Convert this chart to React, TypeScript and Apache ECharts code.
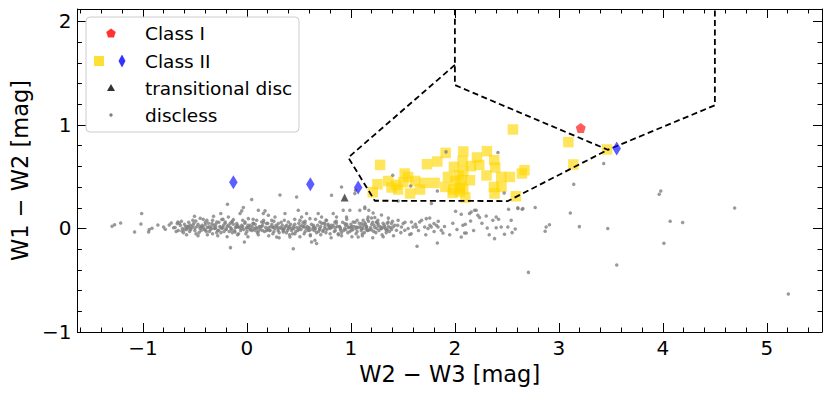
import React, { useEffect, useRef } from 'react';
import * as echarts from 'echarts';

const X_RANGE = [-1.63, 5.53];
const Y_RANGE = [-1, 2.12];
const X_MAJOR = [-1, 0, 1, 2, 3, 4, 5];
const X_MINOR = [-1.6, -1.4, -1.2, -0.8, -0.6, -0.4, -0.2, 0.2, 0.4, 0.6, 0.8, 1.2, 1.4, 1.6, 1.8, 2.2, 2.4, 2.6, 2.8, 3.2, 3.4, 3.6, 3.8, 4.2, 4.4, 4.6, 4.8, 5.2, 5.4];
const Y_MAJOR = [-1, 0, 1, 2];
const Y_MINOR = [-0.8, -0.6, -0.4, -0.2, 0.2, 0.4, 0.6, 0.8, 1.2, 1.4, 1.6, 1.8];

const X_NAME = 'W2 \u2212 W3 [mag]';
const Y_NAME = 'W1 \u2212 W2 [mag]';
const LEGEND_LABELS = ['Class I', 'Class II', 'transitional disc', 'discless'];

const classI = [[3.21, 0.97]];
const classIIDiamonds = [[-0.13, 0.447], [0.61, 0.427], [1.07, 0.396], [3.556, 0.773]];
const transitional = [[0.94, 0.30]];
const classIISquares = [
  [1.281, 0.614], [1.732, 0.621], [1.831, 0.647], [1.911, 0.730], [2.081, 0.744], [2.212, 0.686],
  [2.308, 0.747], [2.378, 0.660], [2.388, 0.589], [1.991, 0.595], [2.074, 0.653], [2.154, 0.602],
  [2.234, 0.614], [1.517, 0.531], [1.550, 0.498], [1.617, 0.459], [1.706, 0.440], [1.805, 0.440],
  [1.934, 0.498], [2.036, 0.512], [2.081, 0.556], [2.304, 0.512], [2.445, 0.498], [2.529, 0.498],
  [2.644, 0.531], [2.669, 0.563], [1.358, 0.459], [1.435, 0.421], [1.390, 0.396], [1.454, 0.376],
  [1.505, 0.447], [1.569, 0.338], [1.665, 0.376], [1.255, 0.427], [1.210, 0.350], [1.908, 0.401],
  [1.985, 0.376], [2.004, 0.459], [2.068, 0.466], [2.145, 0.466], [2.049, 0.401], [1.978, 0.343],
  [2.049, 0.357], [2.081, 0.382], [2.100, 0.299], [2.375, 0.401], [2.381, 0.338], [2.448, 0.401],
  [2.586, 0.311], [2.558, 0.956], [3.091, 0.834], [3.139, 0.618], [3.463, 0.763]
];

const disclessSparse = [
  [-1.297, 0.021], [-1.272, 0.037], [-1.214, 0.053], [-1.080, -0.033], [-1.012, 0.144], [-1.019, 0.044],
  [-0.939, -0.011], [-0.945, -0.033], [-0.913, 0.002], [-0.856, 0.034], [-0.801, 0.015], [-0.785, -0.008],
  [-0.747, 0.034], [-0.728, 0.053], [-0.705, 0.008], [-0.664, 0.063], [-0.670, 0.047], [-0.625, -0.024],
  [-0.600, -0.011], [-0.577, 0.005], [-0.561, 0.021], [-0.545, 0.034], [-0.504, 0.118], [-0.491, 0.073],
  [-0.449, 0.099], [-0.433, 0.015], [-0.401, 0.037], [-0.385, 0.079], [-0.369, 0.015], [-0.337, 0.047],
  [-0.321, 0.118], [-0.305, 0.002], [-0.289, 0.063], [-0.273, -0.017], [-0.251, 0.144], [-0.241, 0.086],
  [-0.225, 0.031], [-0.209, 0.063], [-0.187, 0.234], [-0.178, 0.111], [-0.162, 0.015], [-0.158, -0.185],
  [-0.146, 0.063], [-0.130, 0.086], [-0.114, -0.033], [-0.098, 0.047], [-0.082, 0.015], [-0.066, 0.144],
  [-0.050, 0.170], [-0.034, 0.202], [-0.024, -0.130], [-0.018, 0.063], [-0.002, 0.008], [0.014, 0.095],
  [0.030, -0.011], [0.046, 0.279], [0.062, 0.047], [0.078, -0.017], [0.094, 0.079], [0.110, 0.176],
  [0.126, 0.015], [0.142, 0.063], [0.158, 0.144], [0.174, 0.170], [0.190, 0.047], [0.206, 0.128],
  [0.222, -0.017], [0.238, 0.079], [0.254, 0.015], [0.270, 0.111], [0.286, -0.082], [0.302, 0.047],
  [0.318, 0.324], [0.334, -0.001], [0.350, -0.033], [0.366, 0.144], [0.382, 0.031], [0.398, 0.063],
  [0.414, -0.082], [0.430, -0.001], [0.446, -0.195], [0.462, -0.050], [0.478, 0.305], [0.494, 0.176],
  [0.510, 0.079], [0.526, 0.111], [0.542, 0.015], [0.558, 0.047], [0.574, 0.144], [0.590, -0.017],
  [0.606, 0.095], [0.622, -0.130], [0.638, 0.015], [0.654, -0.114], [0.670, -0.146], [0.686, 0.144],
  [0.702, 0.063], [0.718, 0.111], [0.734, -0.017], [0.750, 0.047], [0.766, 0.079], [0.782, 0.031],
  [0.798, 0.015], [0.814, 0.321], [0.830, 0.144], [0.846, 0.063], [0.862, 0.111], [0.878, -0.050],
  [0.894, 0.015], [0.926, 0.176], [0.942, 0.047], [0.958, 0.111], [0.974, 0.015], [0.990, 0.176],
  [1.006, -0.017], [1.022, 0.063], [1.038, 0.337], [1.054, 0.015], [1.070, -0.082], [1.086, 0.176],
  [1.102, 0.047], [1.118, 0.079], [1.134, 0.208], [1.150, 0.015], [1.166, 0.111]
];

const disclessCore = [
  [-0.69, 0.01], [-0.66, -0.02], [-0.64, 0.03], [-0.62, 0.00], [-0.60, 0.04], [-0.58, -0.01], [-0.57, 0.02],
  [-0.55, -0.03], [-0.53, 0.01], [-0.51, 0.05], [-0.50, -0.02], [-0.48, 0.02], [-0.46, -0.04], [-0.45, 0.00],
  [-0.43, 0.03], [-0.41, -0.01], [-0.40, 0.06], [-0.38, 0.01], [-0.36, -0.03], [-0.35, 0.02], [-0.33, -0.05],
  [-0.31, 0.00], [-0.30, 0.04], [-0.28, -0.02], [-0.26, 0.02], [-0.25, -0.04], [-0.23, 0.01], [-0.21, 0.05],
  [-0.20, -0.01], [-0.18, 0.03], [-0.17, -0.03], [-0.15, 0.00], [-0.13, 0.04], [-0.12, -0.02], [-0.10, 0.02],
  [-0.08, -0.05], [-0.07, 0.01], [-0.05, 0.03], [-0.03, -0.01], [-0.02, 0.05], [0.00, -0.03], [0.02, 0.01],
  [0.03, 0.03], [0.05, -0.02], [0.07, 0.00], [0.08, 0.04], [0.10, -0.04], [0.12, 0.02], [0.13, -0.01],
  [0.15, 0.03], [0.17, -0.03], [0.18, 0.01], [0.20, 0.05], [0.22, -0.02], [0.23, 0.02], [0.25, -0.05],
  [0.27, 0.00], [0.28, 0.03], [0.30, -0.02], [0.32, 0.01], [0.33, 0.06], [0.35, -0.01], [0.37, 0.02],
  [0.38, -0.04], [0.40, 0.00], [0.42, 0.04], [0.43, -0.02], [0.45, 0.02], [0.47, -0.03], [0.48, 0.01],
  [0.50, 0.05], [0.52, -0.01], [0.53, 0.03], [0.55, -0.05], [0.57, 0.00], [0.58, 0.02], [0.60, -0.02],
  [0.62, 0.04], [0.63, -0.01], [0.65, 0.01], [0.67, -0.04], [0.68, 0.03], [0.70, 0.00], [0.72, 0.05],
  [0.73, -0.03], [0.75, 0.02], [0.77, -0.01], [0.78, 0.04], [0.80, -0.05], [0.82, 0.01], [0.83, 0.03],
  [0.85, -0.02], [0.87, 0.02], [0.88, -0.06], [0.90, 0.00], [0.92, 0.06], [0.93, -0.02], [0.95, 0.03],
  [0.97, -0.04], [0.98, 0.01], [1.00, 0.04], [1.02, -0.01], [1.03, 0.02], [1.05, -0.05], [1.07, 0.01],
  [1.08, 0.05], [1.10, -0.02], [1.12, 0.03], [1.13, -0.04], [1.15, 0.02], [1.17, 0.07], [1.18, -0.01],
  [1.20, 0.04], [1.22, -0.03], [1.23, 0.01], [1.25, 0.06], [1.27, -0.02], [1.28, 0.02], [1.30, -0.06],
  [1.32, 0.03], [1.33, 0.00], [1.35, 0.05], [1.37, -0.03], [1.38, 0.01], [1.40, 0.07],
  [-0.68, -0.03], [-0.65, 0.05], [-0.61, -0.04], [-0.59, 0.02], [-0.56, 0.06], [-0.54, -0.01], [-0.52, 0.03],
  [-0.49, -0.05], [-0.47, 0.04], [-0.44, -0.02], [-0.42, 0.01], [-0.39, -0.03], [-0.37, 0.05], [-0.34, 0.00],
  [-0.32, 0.03], [-0.29, -0.04], [-0.27, 0.06], [-0.24, 0.00], [-0.22, -0.03], [-0.19, 0.02], [-0.16, 0.05],
  [-0.14, -0.04], [-0.11, 0.01], [-0.09, 0.03], [-0.06, -0.02], [-0.04, 0.02], [-0.01, -0.05], [0.01, 0.03],
  [0.04, -0.01], [0.06, 0.05], [0.09, 0.01], [0.11, -0.03], [0.14, 0.02], [0.16, 0.06], [0.19, -0.02],
  [0.21, 0.01], [0.24, 0.04], [0.26, -0.03], [0.29, 0.02], [0.31, -0.04], [0.34, 0.03], [0.36, 0.00],
  [0.39, -0.02], [0.41, 0.02], [0.44, -0.05], [0.46, 0.04], [0.49, -0.02], [0.51, 0.02], [0.54, 0.06],
  [0.56, -0.03], [0.59, 0.01], [0.61, -0.06], [0.64, 0.03], [0.66, 0.00], [0.69, -0.03], [0.71, 0.02],
  [0.74, 0.05], [0.76, -0.04], [0.79, 0.01], [0.81, 0.03], [0.84, -0.03], [0.86, 0.05], [0.89, 0.02],
  [0.91, -0.04], [0.94, 0.00], [0.96, 0.04], [0.99, -0.03], [1.01, 0.02], [1.04, 0.06], [1.06, -0.03],
  [1.09, 0.02], [1.11, -0.05], [1.14, 0.04], [1.16, -0.02], [1.19, 0.01], [1.21, 0.06], [1.24, -0.04],
  [1.26, 0.03], [1.29, 0.00], [1.31, 0.05], [1.34, -0.04], [1.36, 0.02], [1.39, -0.01],
  [-0.55, 0.00], [-0.45, 0.02], [-0.35, -0.01], [-0.25, 0.01], [-0.15, -0.01], [-0.05, 0.00], [0.05, 0.02],
  [0.15, -0.02], [0.25, 0.01], [0.35, -0.02], [0.45, 0.00], [0.55, 0.02], [0.65, -0.02], [0.75, 0.00],
  [0.85, 0.01], [0.95, -0.01], [1.05, 0.00], [1.15, -0.01], [1.25, 0.00], [1.35, -0.01],
  [1.45, 0.03], [1.48, -0.04], [1.52, 0.06], [1.55, 0.00], [1.58, -0.05], [1.62, 0.04], [1.65, -0.02],
  [1.68, 0.08], [1.72, -0.06], [1.76, 0.03], [1.80, -0.03], [1.84, 0.07], [1.90, 0.02], [1.95, -0.06],
  [1.98, 0.05], [2.02, -0.01], [2.10, 0.04], [2.18, -0.02], [2.26, 0.05], [2.33, -0.06], [2.42, 0.09],
  [2.55, -0.04],
  [-0.63, 0.07], [-0.58, -0.06], [-0.52, 0.08], [-0.47, -0.07], [-0.42, 0.09], [-0.38, -0.06], [-0.33, 0.08],
  [-0.28, -0.07], [-0.23, 0.09], [-0.19, -0.08], [-0.14, 0.07], [-0.09, -0.06], [-0.04, 0.08], [0.01, -0.08],
  [0.06, 0.09], [0.11, -0.06], [0.16, 0.08], [0.21, -0.07], [0.26, 0.07], [0.31, -0.09], [0.36, 0.08],
  [0.41, -0.06], [0.46, 0.09], [0.51, -0.08], [0.56, 0.07], [0.61, -0.07], [0.66, 0.09], [0.71, -0.06],
  [0.76, 0.08], [0.81, -0.09], [0.86, 0.07], [0.91, -0.07], [0.96, 0.09], [1.01, -0.08], [1.06, 0.08],
  [1.11, -0.07], [1.16, 0.09], [1.21, -0.09], [1.26, 0.08], [1.31, -0.08], [1.36, 0.10], [1.41, -0.07],
  [-0.50, 0.005], [-0.40, -0.015], [-0.30, 0.015], [-0.20, -0.005], [-0.10, 0.015], [0.00, 0.005], [0.10, 0.00],
  [0.20, -0.01], [0.30, 0.00], [0.40, 0.01], [0.50, -0.005], [0.60, 0.005], [0.70, -0.01], [0.80, 0.00],
  [0.90, -0.015], [1.00, 0.01], [1.10, 0.00], [1.20, -0.015], [1.30, 0.01]
];

const disclessRight = [
  [1.134, 0.192], [1.172, 0.176], [1.214, 0.150], [1.198, 0.102], [1.230, 0.105], [1.294, 0.131],
  [1.246, 0.063], [1.134, 0.054], [1.118, -0.001], [1.150, 0.015], [1.166, -0.017], [1.223, 0.031],
  [1.262, 0.047], [1.294, -0.001], [1.326, 0.015], [1.342, -0.017], [1.358, 0.063], [1.390, 0.047],
  [1.406, 0.015], [1.422, 0.031], [1.454, 0.079], [1.438, -0.017], [1.486, 0.015], [1.502, 0.047],
  [1.518, -0.017], [1.566, -0.059], [1.582, 0.063], [1.598, 0.015], [1.630, 0.015], [1.636, -0.172],
  [1.661, 0.063], [1.725, 0.095], [1.758, 0.102], [1.709, 0.015], [1.741, -0.001], [1.773, 0.015],
  [1.799, 0.047], [1.822, 0.031], [1.838, 0.015], [1.869, -0.017], [1.885, -0.043], [1.831, -0.140],
  [2.007, 0.166], [2.061, 0.137], [2.077, 0.031], [2.093, -0.043], [2.061, -0.082], [2.109, -0.043],
  [2.141, 0.144], [2.157, 0.160], [2.189, 0.176], [2.205, 0.176], [2.151, 0.073], [2.221, 0.128],
  [2.237, 0.105], [2.301, 0.121], [2.311, 0.005], [2.365, 0.079], [2.397, 0.111], [2.381, -0.098],
  [2.397, 0.008], [2.445, 0.015], [2.477, -0.056], [2.509, 0.015], [2.516, 0.186], [2.541, 0.079],
  [2.580, -0.005], [2.605, 0.199], [2.647, 0.186],
  [1.402, 0.515], [1.915, 0.740], [2.414, 0.734], [1.575, 0.411], [1.831, 0.363], [2.474, 0.343],
  [3.143, 0.427], [3.431, 0.628], [0.910, 0.401], [1.044, 0.369], [1.454, 0.266], [1.774, 0.241],
  [2.606, 0.192], [2.654, 0.192],
  [3.965, 0.331], [3.980, 0.363], [4.690, 0.198], [4.070, 0.070], [4.190, 0.057], [4.010, -0.143],
  [3.556, -0.353], [3.470, 0.000], [3.197, 0.018], [3.110, 0.150], [2.868, -0.027], [2.877, 0.015],
  [2.909, 0.037], [2.707, -0.424], [2.772, 0.202], [5.206, -0.633]
];

const BOUNDARY_CLASS_I = [[2, 2.3], [2, 1.385], [3.47, 0.76], [4.5, 1.19], [4.5, 2.3]];
const BOUNDARY_CLASS_II = [[2, 1.58], [0.975, 0.685], [1.23, 0.268], [2.51, 0.265], [3.47, 0.76]];

const FONT = 'DejaVu Sans';
const fmt = (v: number) => (v < 0 ? '\u2212' + Math.abs(v) : String(v));
const PENTAGON = 'path://M0,-1 L0.951,-0.309 L0.588,0.809 L-0.588,0.809 L-0.951,-0.309 Z';

function pentagonPoints(cx: number, cy: number, r: number) {
  const pts: number[][] = [];
  for (let i = 0; i < 5; i++) {
    const a = -Math.PI / 2 + (i * 2 * Math.PI) / 5;
    pts.push([cx + r * Math.cos(a), cy + r * Math.sin(a)]);
  }
  return pts;
}

export default function App() {
  const ref = useRef<HTMLDivElement>(null);
  useEffect(() => {
    document.body.style.margin = '0';
    const chart = echarts.init(ref.current!, null, { renderer: 'svg' });
    const lineAxis = { show: true, onZero: false, lineStyle: { color: '#000', width: 1 } };
    const noLine = { show: false, onZero: false };
    const mkX = (pos: string, major: boolean, main: boolean) => ({
      type: 'value', position: pos, min: X_RANGE[0], max: X_RANGE[1],
      axisLine: major ? lineAxis : noLine,
      axisTick: { show: true, inside: true, length: major ? 9 : 4.5, customValues: major ? X_MAJOR : X_MINOR, lineStyle: { color: '#000', width: 1 } },
      axisLabel: main ? { show: true, customValues: X_MAJOR, formatter: fmt, fontSize: 20, fontFamily: FONT, color: '#000', margin: 6 } : { show: false },
      splitLine: { show: false },
      name: main ? X_NAME : '', nameLocation: 'middle', nameGap: 30,
      nameTextStyle: { fontSize: 22.5, fontFamily: FONT, color: '#000' },
    });
    const mkY = (pos: string, major: boolean, main: boolean) => ({
      type: 'value', position: pos, min: Y_RANGE[0], max: Y_RANGE[1],
      axisLine: major ? lineAxis : noLine,
      axisTick: { show: true, inside: true, length: major ? 9 : 4.5, customValues: major ? Y_MAJOR : Y_MINOR, lineStyle: { color: '#000', width: 1 } },
      axisLabel: main ? { show: true, customValues: Y_MAJOR, formatter: fmt, fontSize: 20, fontFamily: FONT, color: '#000', margin: 6 } : { show: false },
      splitLine: { show: false },
      name: main ? Y_NAME : '', nameLocation: 'middle', nameGap: 39, nameRotate: 90,
      nameTextStyle: { fontSize: 22.5, fontFamily: FONT, color: '#000' },
    });

    const lx = 111;
    const rows = [33, 61, 88, 115];
    const textX = 145;
    const graphic: any[] = [
      { type: 'rect', shape: { x: 86, y: 17, width: 213, height: 115, r: 4 }, style: { fill: 'rgba(255,255,255,0.8)', stroke: '#cccccc', lineWidth: 1 }, z: 100 },
      { type: 'polygon', shape: { points: pentagonPoints(lx, rows[0] + 0.5, 5) }, style: { fill: 'rgba(255,0,0,0.8)' }, z: 101 },
      { type: 'rect', shape: { x: 99 - 5, y: rows[1] - 5, width: 10, height: 10 }, style: { fill: 'rgba(255,215,0,0.8)' }, z: 101 },
      { type: 'polygon', shape: { points: [[122, rows[1] - 6.5], [125.5, rows[1]], [122, rows[1] + 6.5], [118.5, rows[1]]] }, style: { fill: 'rgba(0,0,255,0.8)' }, z: 101 },
      { type: 'polygon', shape: { points: [[lx, rows[2] - 4], [lx + 4, rows[2] + 3], [lx - 4, rows[2] + 3]] }, style: { fill: 'rgba(0,0,0,0.8)' }, z: 101 },
      { type: 'circle', shape: { cx: lx, cy: rows[3], r: 1.7 }, style: { fill: '#808080' }, z: 101 },
    ];
    LEGEND_LABELS.forEach((t, i) => {
      graphic.push({ type: 'text', x: textX, y: rows[i], style: { text: t, fontSize: 18.5, fontFamily: FONT, fill: '#000', verticalAlign: 'middle', align: 'left' }, z: 101 });
    });

    const dashed = { color: '#000', width: 1.8, type: [6, 3.5] };
    chart.setOption({
      animation: false,
      grid: { left: 76, right: 8, top: 9, bottom: 64, containLabel: false },
      xAxis: [mkX('bottom', true, true), mkX('top', true, false), mkX('bottom', false, false), mkX('top', false, false)],
      yAxis: [mkY('left', true, true), mkY('right', true, false), mkY('left', false, false), mkY('right', false, false)],
      graphic,
      series: [
        { type: 'scatter', name: 'Class II', data: classIISquares, symbol: 'rect', symbolSize: 10.5, itemStyle: { color: 'rgba(255,215,0,0.8)' }, z: 2 },
        { type: 'scatter', name: 'discless', data: [...disclessSparse, ...disclessCore, ...disclessRight], symbol: 'circle', symbolSize: 3.5, itemStyle: { color: '#808080' }, z: 3 },
        { type: 'line', data: BOUNDARY_CLASS_I, symbol: 'none', lineStyle: dashed, z: 4, clip: true },
        { type: 'line', data: BOUNDARY_CLASS_II, symbol: 'none', lineStyle: dashed, z: 4, clip: true },
        { type: 'scatter', name: 'Class II d', data: classIIDiamonds, symbol: 'diamond', symbolSize: [8.5, 14], itemStyle: { color: 'rgba(0,0,255,0.8)' }, z: 5 },
        { type: 'scatter', name: 'transitional disc', data: transitional, symbol: 'triangle', symbolSize: 8, itemStyle: { color: 'rgba(0,0,0,0.8)' }, z: 5 },
        { type: 'scatter', name: 'Class I', data: classI, symbol: PENTAGON, symbolSize: 10, itemStyle: { color: 'rgba(255,0,0,0.8)' }, z: 5 },
      ],
    } as any);
    return () => chart.dispose();
  }, []);
  return <div ref={ref} style={{ width: 830, height: 396 }} />;
}
